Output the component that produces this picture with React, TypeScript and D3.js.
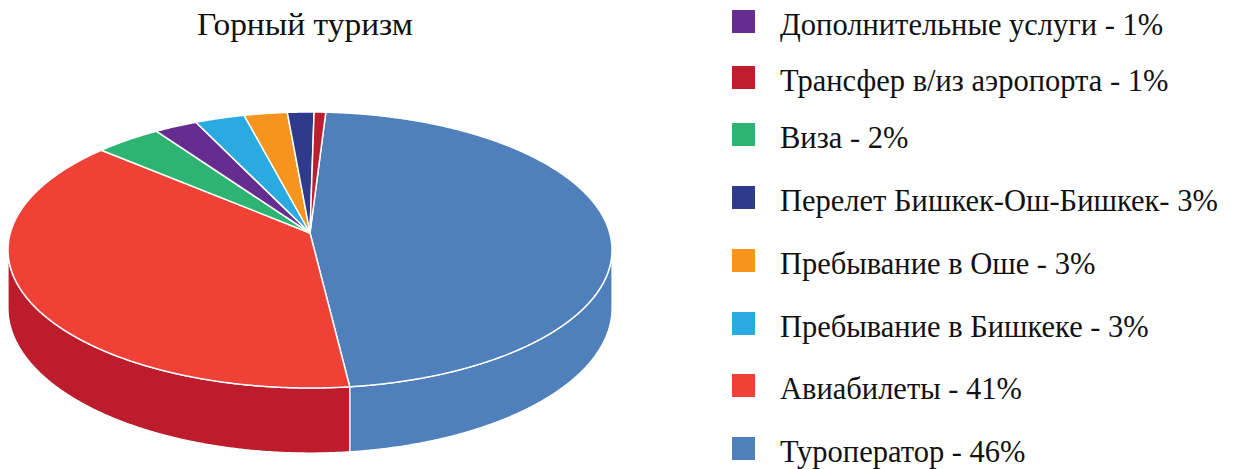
import React from "react";
import * as d3 from "d3";

// Slice order (clockwise from the top)
const categories = [
  "Туроператор",
  "Авиабилеты",
  "Виза",
  "Дополнительные услуги",
  "Пребывание в Бишкеке",
  "Пребывание в Оше",
  "Перелет Бишкек-Ош-Бишкек",
  "Трансфер в/из аэропорта",
];
const shares = [47.2, 38.3, 4.0, 2.6, 3.0, 2.6, 1.6, 0.7];
const topColors = ["#4F80BB", "#EF4136", "#2DB473", "#662D91", "#29ABE2", "#F7941E", "#2E3A8C", "#BE1E2D"];
const sideColors = ["#4F80BB", "#BD1C2D", "#2DB473", "#662D91", "#29ABE2", "#F7941E", "#2E3A8C", "#BE1E2D"];

// Legend (as shown, top to bottom)
const legendCategories = [
  "Дополнительные услуги",
  "Трансфер в/из аэропорта",
  "Виза",
  "Перелет Бишкек-Ош-Бишкек",
  "Пребывание в Оше",
  "Пребывание в Бишкеке",
  "Авиабилеты",
  "Туроператор",
];
const legendLabels = [
  "Дополнительные услуги - 1%",
  "Трансфер в/из аэропорта - 1%",
  "Виза - 2%",
  "Перелет Бишкек-Ош-Бишкек- 3%",
  "Пребывание в Оше - 3%",
  "Пребывание в Бишкеке - 3%",
  "Авиабилеты - 41%",
  "Туроператор - 46%",
];
const title = "Горный туризм";

const W = 1258;
const H = 469;
const FONT = "'Liberation Serif', 'DejaVu Serif', serif";

export default function App() {
  // perspective pie geometry
  const cx = 310, cy = 233, a = 299.7, b = 135.9, k = 0.1232, depth = 57;
  const proj = (t: number, h: number): [number, number] => {
    const u = Math.sin(t), v = Math.cos(t);
    const s = 1 / (1 + k * v);
    return [cx + a * u * s, cy + (-b * v + depth * h) * s];
  };
  const rot = (3.4 * Math.PI) / 180;
  const pie = d3.pie<number>().sort(null).value((d) => d).startAngle(rot).endAngle(rot + 2 * Math.PI);
  const arcs = pie(shares);
  const line = d3.line();
  const sample = (t0: number, t1: number, h: number) => {
    const n = Math.max(2, Math.ceil(Math.abs(t1 - t0) / 0.005));
    return d3.range(n + 1).map((i) => proj(t0 + ((t1 - t0) * i) / n, h));
  };
  const lo = Math.acos(-k), hi = 2 * Math.PI - Math.acos(-k);
  const sides: { d: string; i: number }[] = [];
  arcs.forEach((arc, i) => {
    [0, 2 * Math.PI].forEach((off) => {
      const s0 = Math.max(arc.startAngle, lo + off);
      const s1 = Math.min(arc.endAngle, hi + off);
      if (s1 > s0) {
        const pts = [...sample(s0, s1, 0), ...sample(s1, s0, 1)];
        sides.push({ d: line(pts) + "Z", i });
      }
    });
  });
  const tops = arcs.map((arc, i) => {
    const pts: [number, number][] = [[cx, cy], ...sample(arc.startAngle, arc.endAngle, 0)];
    return { d: line(pts) + "Z", i };
  });

  const legendTops = [10, 66, 123, 186, 249, 312, 374, 437];

  return (
    <svg width={W} height={H} style={{ position: "absolute", left: 0, top: 0, background: "#fff" }}>
      <text x={305} y={35} textAnchor="middle" fontFamily={FONT} fontSize={31} textLength={216} lengthAdjust="spacingAndGlyphs" fill="#111">
        {title}
      </text>
      {sides.map((s, j) => (
        <path key={"s" + j} d={s.d} fill={sideColors[s.i]} stroke="#fff" strokeWidth={1.2} strokeLinejoin="round" />
      ))}
      {tops.map((t) => (
        <path key={"t" + t.i} d={t.d} fill={topColors[t.i]} stroke="#fff" strokeWidth={1.5} strokeLinejoin="round" />
      ))}
      {legendCategories.map((c, j) => {
        const idx = categories.indexOf(c);
        const y0 = legendTops[j];
        return (
          <g key={c}>
            <rect x={732} y={y0} width={23} height={23} fill={topColors[idx]} />
            <text x={780} y={y0 + 25} fontFamily={FONT} fontSize={30.5} fill="#111">
              {legendLabels[j]}
            </text>
          </g>
        );
      })}
    </svg>
  );
}
